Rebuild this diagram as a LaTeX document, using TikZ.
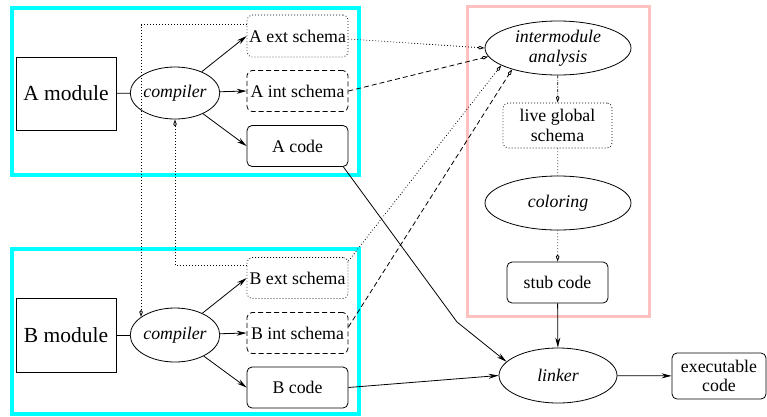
\documentclass[tikz,border=0pt]{standalone}
\usepackage{fontspec}
\setmainfont{Liberation Serif}
\usetikzlibrary{arrows.meta,shapes.geometric}
\definecolor{boxcyan}{RGB}{0,255,255}
\definecolor{boxpink}{RGB}{255,192,192}
\begin{document}
\begin{tikzpicture}[x=1pt,y=-1pt,
  every node/.style={inner sep=0pt, align=center, font=\fontsize{17.8}{19.5}\selectfont},
  ln/.style={line width=0.8pt},
  box/.style={draw, line width=0.8pt, rounded corners=5pt, minimum width=101pt, minimum height=41pt},
  modbox/.style={draw, line width=0.8pt, minimum width=100pt, minimum height=74pt, font=\fontsize{21.5}{24}\selectfont},
  ell/.style={draw, ellipse, line width=0.8pt, font=\fontsize{17.8}{19.5}\selectfont\itshape},
  dotln/.style={dash pattern=on 0.8pt off 2.2pt},
  dashln/.style={dash pattern=on 5pt off 3pt},
  dashdotln/.style={dash pattern=on 3pt off 1.5pt on 0.8pt off 1.5pt},
  solarr/.style={-{Stealth[length=10pt,width=5pt]}},
  openarr/.style={-{Kite[open,length=7pt,width=3.5pt,inset=2pt]}},
  group/.style={line width=4pt}
]
\useasboundingbox (0,0) rectangle (767,416);
% group frames
\draw[group, boxcyan] (11.7,8) rectangle (359,175);
\draw[group, boxcyan] (11.7,249) rectangle (359,414);
\draw[line width=3pt, boxpink] (467,6.5) rectangle (649,316.5);

% A side
\node[modbox, minimum height=73pt] (Amod) at (66,93.5) {A module};
\node[ell, minimum width=82pt, minimum height=52pt] (Acomp) at (175,93) {compiler};
\node[box, dotln, minimum height=42pt] (Aext) at (297.5,36) {A ext schema};
\node[box, dashln] (Aint) at (297.5,91) {A int schema};
\node[box] (Acode) at (297.5,146) {A code};

% B side
\node[modbox] (Bmod) at (66,335) {B module};
\node[ell, minimum width=82pt, minimum height=54pt] (Bcomp) at (175,335) {compiler};
\node[box, dotln] (Bext) at (297.5,278) {B ext schema};
\node[box, dashln] (Bint) at (297.5,333) {B int schema};
\node[box] (Bcode) at (297.5,387.5) {B code};

% right column
\node[ell, minimum width=146pt, minimum height=54pt] (Inter) at (558,48) {intermodule\\analysis};
\node[box, dotln, minimum width=109pt, minimum height=45pt] (Live) at (557.5,125.5) {live global\\schema};
\node[ell, minimum width=146pt, minimum height=54pt] (Col) at (558,203) {coloring};
\node[box] (Stub) at (557.5,282.5) {stub code};
\node[ell, minimum width=118pt, minimum height=55pt] (Lnk) at (558,375.5) {linker};
\node[box, minimum width=94pt, minimum height=46pt] (Exec) at (719,376) {executable\\code};

% A connectors
\draw[ln] (Amod) -- (Acomp);
\draw[ln, solarr] (Acomp) -- (Aext.west);
\draw[ln, solarr] (Acomp) -- (Aint.west);
\draw[ln, solarr] (Acomp) -- (Acode.west);
% B connectors
\draw[ln] (Bmod) -- (Bcomp);
\draw[ln, solarr] (Bcomp) -- (Bext.west);
\draw[ln, solarr] (Bcomp) -- (Bint.west);
\draw[ln, solarr] (Bcomp) -- (Bcode.west);

% cross schema feedback
\draw[ln, dotln, openarr] ([yshift=-10pt]Aext.north west) -| (Bcomp.152);
\draw[ln, dotln, openarr] ([yshift=-8pt]Bext.north west) -| (Acomp.south);

% schemas to intermodule analysis
\draw[ln, dotln, openarr] ([yshift=-3pt]Aext.east) -- (Inter.west);
\draw[ln, dashln, openarr] (Aint.east) -- (Inter.187);
\draw[ln, dotln, openarr] ([yshift=-4pt]Bext.north east) -- (Inter.197);
\draw[ln, dashln, openarr] ([yshift=6pt]Bint.east) -- (Inter.205);

% right column flow
\draw[ln, dashdotln, openarr] (Inter) -- (Live);
\draw[ln, dotln] (Live) -- (Col);
\draw[ln, dotln, openarr] (Col) -- (Stub);

% linking
\coordinate (bend) at (457,322);
\draw[ln, solarr] ([xshift=-5pt]Acode.south east) -- (bend) -- (Lnk.165);
\draw[ln, solarr] (Bcode.east) -- (Lnk.west);
\draw[ln, solarr] (Stub) -- (Lnk);
\draw[ln, solarr] (Lnk) -- (Exec);
\end{tikzpicture}
\end{document}
